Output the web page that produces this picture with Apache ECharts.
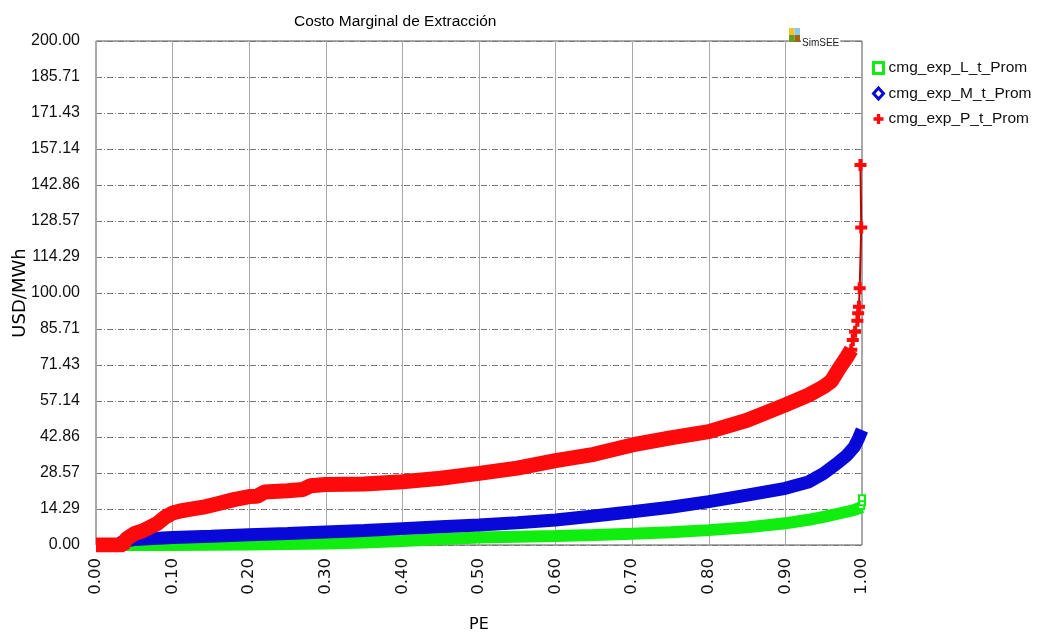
<!DOCTYPE html>
<html>
<head>
<meta charset="utf-8">
<script src="https://cdn.jsdelivr.net/npm/echarts@6/dist/echarts.min.js"></script>
<style>html,body{margin:0;padding:0;background:#fff}#c{width:1040px;height:632px}</style>
</head>
<body>
<div id="c"></div>
<script>
// ---- data ----
const seriesNames = ['cmg_exp_L_t_Prom', 'cmg_exp_M_t_Prom', 'cmg_exp_P_t_Prom'];

const peL  = [0, 0.10, 0.15, 0.20, 0.25, 0.30, 0.35, 0.40, 0.45, 0.50, 0.55, 0.60, 0.65, 0.70, 0.75, 0.80, 0.85, 0.90, 0.93, 0.95, 0.97, 0.99, 1.0];
const cmgL = [0, 0, 0.1, 0.2, 0.4, 0.6, 1.0, 1.6, 2.3, 3.0, 3.3, 3.6, 4.0, 4.5, 5.1, 5.9, 7.0, 8.6, 10.0, 11.2, 12.5, 13.9, 15.0];
const peLtail  = [0.999, 1.0, 1.0];
const cmgLtail = [15.5, 17.0, 18.6];

const peM  = [0, 0.03, 0.035, 0.05, 0.10, 0.15, 0.20, 0.25, 0.30, 0.35, 0.40, 0.45, 0.50, 0.55, 0.60, 0.65, 0.70, 0.75, 0.80, 0.85, 0.90, 0.93, 0.95, 0.97, 0.98, 0.99, 0.995, 1.0];
const cmgM = [0, 0, 1.5, 2.2, 3.0, 3.5, 4.1, 4.6, 5.2, 5.8, 6.5, 7.2, 7.9, 8.8, 9.9, 11.5, 13.2, 15.0, 17.2, 19.8, 22.5, 25.0, 28.4, 33.0, 35.5, 39.0, 42.0, 45.6];

const peP  = [0, 0.035, 0.04, 0.05, 0.06, 0.07, 0.08, 0.09, 0.10, 0.11, 0.12, 0.14, 0.16, 0.18, 0.20, 0.21, 0.22, 0.25, 0.27, 0.28, 0.30, 0.35, 0.40, 0.45, 0.50, 0.55, 0.60, 0.65, 0.70, 0.75, 0.80, 0.85, 0.90, 0.93, 0.95, 0.96, 0.97, 0.98, 0.986];
const cmgP = [0, 0, 2.5, 4.5, 5.5, 7.0, 8.5, 11.0, 12.7, 13.5, 14.0, 15.0, 16.5, 18.0, 19.2, 19.3, 21.0, 21.5, 22.0, 23.5, 24.0, 24.2, 25.1, 26.5, 28.4, 30.5, 33.5, 36.0, 39.7, 42.5, 45.0, 49.5, 55.6, 59.5, 62.8, 65.0, 70.0, 74.5, 77.5];
const pePtail  = [0.986, 0.988, 0.991, 0.994, 0.995, 0.996, 0.997, 0.999, 0.998];
const cmgPtail = [77.5, 81.3, 84.6, 89.0, 92.0, 94.5, 101.9, 126.0, 150.8];

const yTicksMax = 200, yTickCount = 14;
// ---------------------------------------

const zip = (xs, ys) => xs.map((x, i) => [x, ys[i]]);
const GREEN = '#10ee10', BLUE = '#0808d8', RED = '#ff0a0a';
const plusPath = 'path://M4,0H8V4H12V8H8V12H4V8H0V4H4Z';

const chart = echarts.init(document.getElementById('c'), null, {renderer: 'canvas'});
chart.setOption({
  animation: false,
  backgroundColor: '#fff',
  title: {
    text: 'Costo Marginal de Extracción',
    left: 289, top: 9,
    textStyle: {fontFamily: 'Liberation Sans', fontSize: 15.5, fontWeight: 'normal', color: '#000'}
  },
  legend: {
    orient: 'vertical', left: 867, top: 55, itemGap: 9.5, itemWidth: 10, itemHeight: 11,
    textStyle: {fontFamily: 'Liberation Sans', fontSize: 15.5, color: '#111'},
    data: [
      {name: seriesNames[0], icon: 'rect', itemStyle: {color: '#fff', borderColor: GREEN, borderWidth: 3}},
      {name: seriesNames[1], icon: 'diamond', itemStyle: {color: '#fff', borderColor: BLUE, borderWidth: 3}},
      {name: seriesNames[2], icon: plusPath, itemStyle: {color: RED, borderWidth: 0}}
    ]
  },
  grid: {left: 96, right: 178, top: 41, bottom: 87, show: true, borderColor: '#555', borderWidth: 1,
    containLabel: false, outerBoundsMode: 'none'},
  xAxis: {
    type: 'value', min: 0, max: 1, interval: 0.1,
    name: 'PE', nameLocation: 'middle', nameGap: 72, nameMoveOverlap: false,
    nameTextStyle: {fontFamily: 'DejaVu Sans', fontSize: 16, color: '#000'},
    axisLine: {show: false}, axisTick: {show: false},
    axisLabel: {rotate: 90, margin: 13, fontFamily: 'DejaVu Sans', fontSize: 16.5, color: '#111',
      formatter: v => v.toFixed(2)},
    splitLine: {show: true, lineStyle: {color: '#a8a8a8', width: 1, type: 'solid'}}
  },
  yAxis: {
    type: 'value', min: 0, max: yTicksMax, interval: yTicksMax / yTickCount,
    name: 'USD/MWh', nameLocation: 'middle', nameGap: 67, nameRotate: 90, nameMoveOverlap: false,
    nameTextStyle: {fontFamily: 'DejaVu Sans', fontSize: 18, color: '#000'},
    axisLine: {show: false}, axisTick: {show: false},
    axisLabel: {margin: 16, fontFamily: 'Liberation Sans', fontSize: 16, color: '#111',
      formatter: v => v.toFixed(2)},
    splitLine: {show: true, lineStyle: {color: '#777', width: 1, type: [6, 2, 1, 2]}}
  },
  series: [
    {name: seriesNames[0], type: 'line', data: zip(peL, cmgL), showSymbol: false, symbol: 'none',
      lineStyle: {color: GREEN, width: 12, cap: 'butt'}, itemStyle: {color: GREEN}, z: 2},
    {name: seriesNames[0], type: 'line', data: zip(peLtail, cmgLtail), symbol: 'rect', symbolSize: 6,
      lineStyle: {color: GREEN, width: 2}, itemStyle: {color: '#fff', borderColor: GREEN, borderWidth: 2}, z: 2},
    {name: seriesNames[1], type: 'line', data: zip(peM, cmgM), showSymbol: false, symbol: 'none',
      lineStyle: {color: BLUE, width: 13, cap: 'butt'}, itemStyle: {color: BLUE}, z: 3},
    {name: seriesNames[2], type: 'line', data: zip(peP, cmgP), showSymbol: false, symbol: 'none',
      lineStyle: {color: RED, width: 15, cap: 'butt'}, itemStyle: {color: RED}, z: 4},
    {name: seriesNames[2], type: 'line', data: zip(pePtail, cmgPtail), symbol: plusPath, symbolSize: 12,
      showAllSymbol: true, lineStyle: {color: '#c00000', width: 2}, itemStyle: {color: RED}, z: 4}
  ],
  graphic: [
    {type: 'rect', shape: {x: 789, y: 28, width: 5.5, height: 7}, style: {fill: '#f2c12e'}, z: 100},
    {type: 'rect', shape: {x: 794.5, y: 28, width: 5.5, height: 7}, style: {fill: '#8ec9ef'}, z: 100},
    {type: 'rect', shape: {x: 789, y: 35, width: 5.5, height: 7}, style: {fill: '#5fa21f'}, z: 100},
    {type: 'rect', shape: {x: 794.5, y: 35, width: 5.5, height: 7}, style: {fill: '#a5620f'}, z: 100},
    {type: 'text', x: 801, y: 38, z: 100,
      style: {text: 'SimSEE', fontFamily: 'Liberation Sans', fontSize: 10, fill: '#222', backgroundColor: '#fff', padding: [0, 1]}}
  ]
});
</script>
</body>
</html>
